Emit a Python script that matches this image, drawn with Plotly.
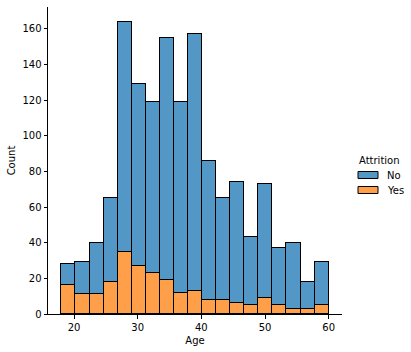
import plotly.graph_objects as go

bin_start = 18.0
bin_end = 60.0
n_bins = 19
yes_counts = [16, 11, 11, 18, 35, 27, 23, 19, 12, 13, 8, 8, 6, 5, 9, 5, 3, 3, 5]
total_counts = [28, 29, 40, 65, 164, 129, 119, 155, 119, 157, 86, 65, 74, 43, 73, 37, 40, 18, 29]
no_counts = [t - y for t, y in zip(total_counts, yes_counts)]
y_ticks = [0, 20, 40, 60, 80, 100, 120, 140, 160]
x_ticks = [20, 30, 40, 50, 60]
hue_labels = ["No", "Yes"]
hue_colors = ["rgb(82,151,197)", "rgb(255,159,74)"]

bw = (bin_end - bin_start) / n_bins
centers = [bin_start + bw * (i + 0.5) for i in range(n_bins)]

fig = go.Figure()
fig.add_trace(go.Bar(x=centers, y=yes_counts, width=[bw] * n_bins, name="Yes", showlegend=False,
                     marker=dict(color=hue_colors[1], line=dict(color="black", width=1))))
fig.add_trace(go.Bar(x=centers, y=no_counts, width=[bw] * n_bins, name="No", showlegend=False,
                     marker=dict(color=hue_colors[0], line=dict(color="black", width=1))))

# manual legend (paper coordinates; plot area ~ 294 x 307 px)
L, T, W, H = 48, 7, 294, 307
def px(x):
    return (x - L) / W
def py(y):
    return (T + H - y) / H

fig.add_annotation(x=px(379), y=py(160), xref="paper", yref="paper", text="Attrition",
                   showarrow=False, xanchor="center", yanchor="middle",
                   font=dict(size=10, color="black"))
for i, (lab, col) in enumerate(zip(hue_labels, hue_colors)):
    yc = 175 + 15 * i
    fig.add_shape(type="rect", xref="paper", yref="paper",
                  x0=px(358), x1=px(378), y0=py(yc - 3.5), y1=py(yc + 3.5),
                  fillcolor=col, line=dict(color="black", width=1))
    fig.add_annotation(x=px(385), y=py(yc), xref="paper", yref="paper", text=lab,
                       showarrow=False, xanchor="left", yanchor="middle",
                       font=dict(size=10, color="black"))

span = bin_end - bin_start
fig.update_layout(
    width=411, height=352,
    margin=dict(l=L, r=411 - L - W, t=T, b=352 - T - H),
    barmode="stack", bargap=0,
    plot_bgcolor="white", paper_bgcolor="white",
    font=dict(family="DejaVu Sans", size=10, color="black"),
    showlegend=False,
    xaxis=dict(range=[bin_start - 0.05 * span, bin_end + 0.05 * span],
               tickvals=x_ticks, showgrid=False, zeroline=False,
               showline=True, linecolor="black", linewidth=1,
               ticks="outside", ticklen=3.5, tickwidth=0.8, tickcolor="black",
               title=dict(text="Age", standoff=5, font=dict(size=10))),
    yaxis=dict(range=[0, max(total_counts) * 1.05],
               tickvals=y_ticks, showgrid=False, zeroline=False,
               showline=True, linecolor="black", linewidth=1,
               ticks="outside", ticklen=3.5, tickwidth=0.8, tickcolor="black",
               title=dict(text="Count", standoff=4, font=dict(size=10))),
)
fig.write_html("out.html")
